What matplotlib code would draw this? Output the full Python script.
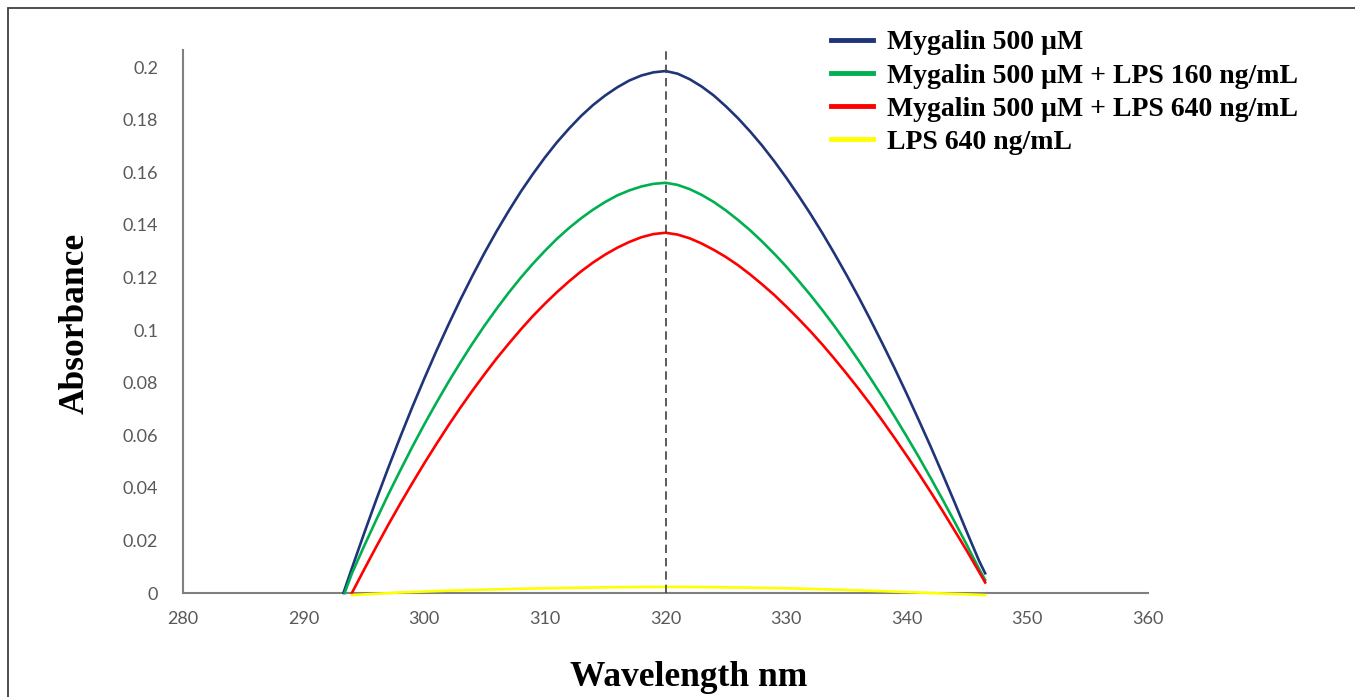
import matplotlib.pyplot as plt
from matplotlib.patches import Rectangle

# absorbance, 1 nm steps from 294 to 346 nm
wl = [294, 295, 296, 297, 298, 299, 300, 301, 302, 303, 304, 305, 306, 307, 308, 309,
      310, 311, 312, 313, 314, 315, 316, 317, 318, 319, 320, 321, 322, 323, 324, 325,
      326, 327, 328, 329, 330, 331, 332, 333, 334, 335, 336, 337, 338, 339, 340, 341,
      342, 343, 344, 345, 346]

wl_blue = [293.3] + wl + [346.5]
abs_blue = [0.0,
            0.0094, 0.0225, 0.0352, 0.0474, 0.0592, 0.0706, 0.0815, 0.0920, 0.1020, 0.1116,
            0.1207, 0.1294, 0.1376, 0.1453, 0.1526, 0.1593, 0.1656, 0.1714, 0.1766, 0.1814,
            0.1856, 0.1892, 0.1923, 0.1949, 0.1968, 0.1980, 0.1985,
            0.1975, 0.1954, 0.1926, 0.1892, 0.1851, 0.1806, 0.1756, 0.1702, 0.1643, 0.1580,
            0.1513, 0.1443, 0.1369, 0.1291, 0.1210, 0.1126, 0.1038, 0.0947, 0.0854, 0.0757,
            0.0657, 0.0555, 0.0449, 0.0341, 0.0230, 0.0122,
            0.0075]

wl_green = [293.4] + wl + [346.5]
abs_green = [0.0,
             0.0074, 0.0177, 0.0276, 0.0373, 0.0465, 0.0555, 0.0641, 0.0723, 0.0802, 0.0877,
             0.0949, 0.1017, 0.1081, 0.1142, 0.1199, 0.1252, 0.1301, 0.1347, 0.1388, 0.1425,
             0.1458, 0.1487, 0.1512, 0.1531, 0.1546, 0.1556, 0.1560,
             0.1552, 0.1536, 0.1514, 0.1487, 0.1455, 0.1419, 0.1380, 0.1337, 0.1291, 0.1242,
             0.1189, 0.1134, 0.1076, 0.1015, 0.0951, 0.0885, 0.0816, 0.0745, 0.0671, 0.0595,
             0.0517, 0.0436, 0.0353, 0.0268, 0.0181, 0.0091,
             0.0050]

wl_red = wl + [346.5]
abs_red = [0.0,
           0.0088, 0.0174, 0.0258, 0.0339, 0.0417, 0.0493, 0.0566, 0.0637, 0.0705, 0.0770,
           0.0832, 0.0892, 0.0948, 0.1002, 0.1053, 0.1100, 0.1144, 0.1185, 0.1223, 0.1257,
           0.1287, 0.1313, 0.1335, 0.1353, 0.1365, 0.1370,
           0.1363, 0.1349, 0.1329, 0.1305, 0.1278, 0.1247, 0.1212, 0.1174, 0.1134, 0.1090,
           0.1044, 0.0996, 0.0945, 0.0891, 0.0835, 0.0777, 0.0717, 0.0654, 0.0589, 0.0522,
           0.0454, 0.0383, 0.0310, 0.0235, 0.0159, 0.0080,
           0.0040]

wl_yellow = [294, 298, 302, 306, 310, 314, 318, 320, 322, 326, 330, 334, 338, 342, 346.5]
abs_yellow = [-0.0008, 0.0002, 0.0009, 0.0014, 0.0018, 0.0021, 0.0023, 0.0023, 0.0023,
              0.0021, 0.0018, 0.0013, 0.0007, 0.0, -0.0008]

labels = ["Mygalin 500 \u00b5M",
          "Mygalin 500 \u00b5M + LPS 160 ng/mL",
          "Mygalin 500 \u00b5M + LPS 640 ng/mL",
          "LPS 640 ng/mL"]
colors = ["#1f3479", "#00b050", "#ff0000", "#ffff00"]

xticks = [280, 290, 300, 310, 320, 330, 340, 350, 360]
yticks = [0, 0.02, 0.04, 0.06, 0.08, 0.1, 0.12, 0.14, 0.16, 0.18, 0.2]
yticklabels = ["0", "0.02", "0.04", "0.06", "0.08", "0.1", "0.12", "0.14", "0.16", "0.18", "0.2"]

fig = plt.figure(figsize=(13.55, 6.97), dpi=100)
ax = fig.add_axes([183/1355, 1-593/697, 965/1355, 543/697])

series = [(wl_blue, abs_blue), (wl_green, abs_green), (wl_red, abs_red), (wl_yellow, abs_yellow)]
for (x, y), c, lab in zip(series, colors, labels):
    ax.plot(x, y, color=c, lw=1.9, label=lab, clip_on=False, zorder=3)

ax.axvline(320, color='#404040', lw=1.2, ls=(0, (5, 3)), zorder=5)

ax.set_xlim(280, 360)
ax.set_ylim(0, 0.2065)
ax.set_xticks(xticks)
ax.set_yticks(yticks)
ax.set_yticklabels(yticklabels)
ax.tick_params(length=0, labelsize=13, labelcolor='#595959')
ax.tick_params(axis='y', pad=18)
ax.tick_params(axis='x', pad=13)
for lab in ax.get_xticklabels() + ax.get_yticklabels():
    lab.set_family('Lato')
for s in ['top', 'right']:
    ax.spines[s].set_visible(False)
for s in ['left', 'bottom']:
    ax.spines[s].set_color('#808080')
    ax.spines[s].set_linewidth(1.5)
    ax.spines[s].set_zorder(2)

fig.text(689/1355, 1-677/697, "Wavelength nm", ha='center', va='center',
         family='Liberation Serif', weight='bold', fontsize=25.5)
fig.text(75/1355, 1-323/697, "Absorbance", ha='center', va='center', rotation=90,
         family='Liberation Serif', weight='bold', fontsize=25.5)

leg = fig.legend(loc='upper left', bbox_to_anchor=(806/1355, 1-5/697), frameon=False,
                 prop={'family': 'Liberation Serif', 'weight': 'bold', 'size': 20},
                 handlelength=1.5, handletextpad=0.5, labelspacing=0.28)
for h in leg.get_lines():
    h.set_linewidth(3.5)

fig.add_artist(Rectangle((8/1355, -0.1), 2, 1-8/697+0.1, transform=fig.transFigure,
                         fill=False, edgecolor='#404040', lw=1.3))

fig.savefig("out.png", dpi=100)
